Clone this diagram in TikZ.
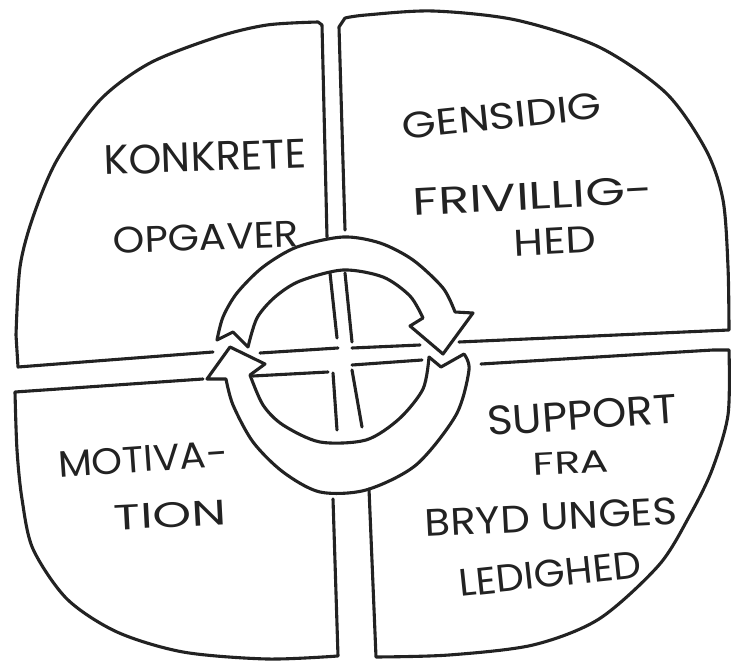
\documentclass[tikz,border=0pt]{standalone}
\usepackage{fontspec}
\setmainfont{Poppins}
\usepackage{graphicx}
\definecolor{inkc}{HTML}{222222}
\newcommand{\handtxt}[3]{\resizebox{#1pt}{#2pt}{#3}}
\begin{document}
\begin{tikzpicture}[x=1pt,y=-1pt,
  ink/.style={draw=inkc, line width=3.1pt, line cap=round, line join=round},
  lbl/.style={text=inkc, inner sep=0pt, anchor=center}]
\useasboundingbox[fill=white] (0,0) rectangle (731,663);

% top-left quadrant
\draw[ink] (213,352) -- (18,367) -- (16,335)
  plot[smooth] coordinates {(16,335) (20,267) (33,217) (57,160) (100,100) (150,63) (217,37) (267,25) (318,22)}
  -- (322,25) -- (327,237);
% top-right quadrant
\draw[ink] (345,230) -- (339,27) -- (345,18)
  plot[smooth] coordinates {(345,18) (366,15) (433,11) (516,20) (599,47) (666,93) (706,150) (723,200) (728,267) (729,330)}
  -- (459,342);
% bottom-right quadrant
\draw[ink] (481,364) -- (713,350) -- (729,350)
  plot[smooth] coordinates {(729,350) (728,415) (712,470) (690,515) (659,565) (599,619) (533,645) (449,655) (376,657)}
  -- (369,489);
% bottom-left quadrant
\draw[ink] (203,379) -- (15,392)
  plot[smooth] coordinates {(15,392) (17,450) (22,499) (33,549) (67,599) (117,632) (183,652) (267,659) (338,656)}
  -- (333,499);

% central cross
\draw[ink] (260,353) -- (338,348);
\draw[ink] (352,348) -- (420,345);
\draw[ink] (253,376) -- (328,372);
\draw[ink] (352,365) -- (422,360);
\draw[ink] (330,273) -- (337,338);
\draw[ink] (345,273) -- (352,342);
\draw[ink] (333,373) -- (337,430);
\draw[ink] (352,370) -- (362,427);

% top arrow (clockwise, head at right)
\draw[ink] (217,340) -- (233,332) -- (248,347)
  plot[smooth] coordinates {(248,347) (257,318) (275,297) (300,281) (343,270) (383,277) (410,296) (423,318)}
  -- (410,326) -- (443,354) -- (473,313) -- (455,312)
  plot[smooth] coordinates {(455,312) (443,288) (413,260) (380,243) (343,237) (297,247) (263,267) (237,293) (223,317) (217,340)};
% bottom arrow (head at left)
\draw[ink] (464,354) -- (441,367) -- (429,357)
  plot[smooth] coordinates {(429,357) (423,389) (399,419) (366,440) (320,442) (283,425) (263,405) (250,375)}
  -- (265,364) -- (230,347) -- (207,379) -- (226,379)
  plot[smooth] coordinates {(226,379) (233,405) (253,442) (283,472) (320,492) (366,490) (416,465) (456,415) (469,370) (464,354)};

% texts
\node[lbl, rotate=2] (konkrete) at (205,157) {\handtxt{203}{29}{KONKRETE}};
\node[lbl, rotate=2] (opgaver) at (206,237) {\handtxt{186}{26}{OPGAVER}};
\node[lbl, rotate=6] (gensidig) at (502,116) {\handtxt{200}{26}{GENSIDIG}};
\node[lbl, rotate=3] (frivillig) at (533,196) {\handtxt{240}{27}{FRIVILLIG-}};
\node[lbl, rotate=3] (hed) at (555,241) {\handtxt{82}{26}{HED}};
\node[lbl, rotate=4] (motiva) at (143,459) {\handtxt{170}{26}{MOTIVA-}};
\node[lbl, rotate=3] (tion) at (170,515) {\handtxt{112}{25}{TION}};
\node[lbl, rotate=4] (support) at (582,415) {\handtxt{190}{29}{SUPPORT}};
\node[lbl, rotate=3] (fra) at (571,463) {\handtxt{76}{22}{FRA}};
\node[lbl, rotate=3] (brydunges) at (551,517) {\handtxt{252}{27}{BRYD UNGES}};
\node[lbl, rotate=6] (ledighed) at (550,574) {\handtxt{183}{27}{LEDIGHED}};
\end{tikzpicture}
\end{document}
